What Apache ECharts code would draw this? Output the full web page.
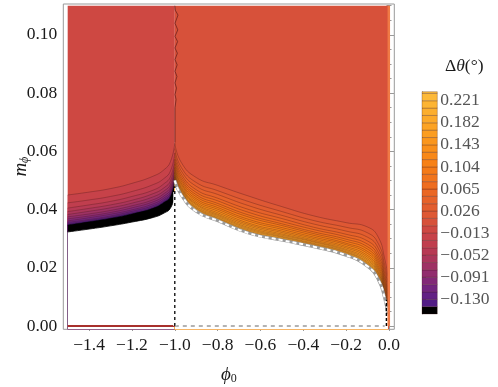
<!DOCTYPE html>
<html>
<head>
<meta charset="utf-8">
<script src="https://cdn.jsdelivr.net/npm/echarts@6/dist/echarts.min.js"></script>
<style>
  html, body { margin: 0; padding: 0; background: #fff; }
  #main { width: 498px; height: 387px; }
</style>
</head>
<body>
<div id="main"></div>
<script>
var leftX = [-1.5, -1.4, -1.3, -1.2, -1.1, -1.05, -1.02, -1.0];
var rightX = [-1.0, -0.97, -0.9, -0.8, -0.65, -0.5, -0.35, -0.2, -0.1, -0.05, -0.02, -0.005];

// left of the cusp: contour levels (top to bottom) and their m_phi values
var leftLevels = [-0.013, -0.026, -0.039, -0.052, -0.065, -0.078, -0.091, -0.104, -0.117, -0.130, -0.143];
var leftLines = [
  [0.0450, 0.0460, 0.0472, 0.0490, 0.0515, 0.0537, 0.0565, 0.0628],
  [0.0423, 0.0433, 0.0445, 0.0462, 0.0486, 0.0507, 0.0533, 0.0594],
  [0.0405, 0.0416, 0.0428, 0.0445, 0.0467, 0.0489, 0.0513, 0.0573],
  [0.0393, 0.0404, 0.0416, 0.0432, 0.0455, 0.0475, 0.0499, 0.0558],
  [0.0383, 0.0394, 0.0406, 0.0422, 0.0444, 0.0464, 0.0487, 0.0545],
  [0.0375, 0.0385, 0.0397, 0.0413, 0.0434, 0.0455, 0.0477, 0.0534],
  [0.0368, 0.0378, 0.0390, 0.0406, 0.0427, 0.0447, 0.0469, 0.0526],
  [0.0361, 0.0372, 0.0384, 0.0399, 0.0420, 0.0440, 0.0461, 0.0517],
  [0.0356, 0.0366, 0.0378, 0.0394, 0.0414, 0.0434, 0.0455, 0.0511],
  [0.0351, 0.0362, 0.0374, 0.0389, 0.0409, 0.0429, 0.0450, 0.0505],
  [0.0347, 0.0358, 0.0370, 0.0385, 0.0405, 0.0425, 0.0445, 0.0500]
];
var leftEdge = [0.0323, 0.0333, 0.0344, 0.0357, 0.0373, 0.0388, 0.0405, 0.0450];

// right of the cusp
var rightLevels = [0.013, 0.026, 0.039, 0.052, 0.065, 0.078, 0.091, 0.104, 0.117, 0.130, 0.143, 0.156, 0.169, 0.182, 0.195, 0.208, 0.221];
var rightLines = [
  [0.0628, 0.0562, 0.0510, 0.0483, 0.0445, 0.0410, 0.0378, 0.0355, 0.0340, 0.0305, 0.0230, 0.0170],
  [0.0609, 0.0545, 0.0493, 0.0465, 0.0426, 0.0393, 0.0362, 0.0339, 0.0320, 0.0283, 0.0210, 0.0150],
  [0.0595, 0.0533, 0.0480, 0.0452, 0.0412, 0.0380, 0.0350, 0.0326, 0.0305, 0.0267, 0.0195, 0.0135],
  [0.0582, 0.0522, 0.0468, 0.0439, 0.0399, 0.0369, 0.0339, 0.0315, 0.0292, 0.0253, 0.0181, 0.0121],
  [0.0572, 0.0513, 0.0459, 0.0430, 0.0389, 0.0359, 0.0331, 0.0306, 0.0281, 0.0241, 0.0171, 0.0111],
  [0.0563, 0.0505, 0.0451, 0.0421, 0.0380, 0.0351, 0.0323, 0.0298, 0.0272, 0.0231, 0.0161, 0.0101],
  [0.0555, 0.0498, 0.0444, 0.0414, 0.0373, 0.0345, 0.0317, 0.0291, 0.0264, 0.0222, 0.0153, 0.0093],
  [0.0547, 0.0491, 0.0437, 0.0407, 0.0365, 0.0338, 0.0311, 0.0284, 0.0256, 0.0214, 0.0145, 0.0085],
  [0.0541, 0.0486, 0.0431, 0.0401, 0.0359, 0.0332, 0.0305, 0.0279, 0.0249, 0.0206, 0.0138, 0.0078],
  [0.0535, 0.0480, 0.0425, 0.0395, 0.0352, 0.0326, 0.0300, 0.0273, 0.0242, 0.0199, 0.0132, 0.0072],
  [0.0529, 0.0475, 0.0420, 0.0389, 0.0347, 0.0321, 0.0295, 0.0268, 0.0236, 0.0193, 0.0125, 0.0065],
  [0.0524, 0.0471, 0.0416, 0.0384, 0.0342, 0.0316, 0.0291, 0.0263, 0.0230, 0.0187, 0.0120, 0.0060],
  [0.0519, 0.0467, 0.0411, 0.0380, 0.0337, 0.0312, 0.0288, 0.0259, 0.0225, 0.0182, 0.0115, 0.0055],
  [0.0515, 0.0463, 0.0407, 0.0376, 0.0333, 0.0308, 0.0284, 0.0255, 0.0220, 0.0177, 0.0111, 0.0051],
  [0.0511, 0.0460, 0.0404, 0.0372, 0.0329, 0.0305, 0.0281, 0.0252, 0.0216, 0.0172, 0.0107, 0.0047],
  [0.0507, 0.0456, 0.0400, 0.0369, 0.0325, 0.0301, 0.0278, 0.0248, 0.0212, 0.0168, 0.0102, 0.0042],
  [0.0504, 0.0453, 0.0397, 0.0365, 0.0322, 0.0298, 0.0275, 0.0245, 0.0208, 0.0164, 0.0099, 0.0039]
];
var rightEdge = [0.0500, 0.0450, 0.0394, 0.0362, 0.0318, 0.0295, 0.0272, 0.0243, 0.0205, 0.0160, 0.0095, 0.0035];

// wiggly zero contour running up from the cusp
var seam = [[-1.0, 0.110], [-0.998, 0.1085], [-0.985, 0.1068], [-0.999, 0.104], [-0.986, 0.1017],
  [-0.999, 0.0995], [-0.987, 0.0977], [-0.999, 0.0955], [-0.988, 0.0937], [-0.999, 0.0915],
  [-0.989, 0.0897], [-0.999, 0.0875], [-0.990, 0.0857], [-0.999, 0.0835], [-0.992, 0.0817],
  [-0.999, 0.0795], [-0.994, 0.0778], [-0.999, 0.075], [-0.999, 0.063]];

var xTicks = [-1.4, -1.2, -1.0, -0.8, -0.6, -0.4, -0.2, 0.0];
var yTicks = [0.00, 0.02, 0.04, 0.06, 0.08, 0.10];
var barTicks = [-0.130, -0.091, -0.052, -0.013, 0.026, 0.065, 0.104, 0.143, 0.182, 0.221];
var barLevels = [-0.156, -0.143, -0.130, -0.117, -0.104, -0.091, -0.078, -0.065, -0.052, -0.039, -0.026, -0.013,
  0.000, 0.013, 0.026, 0.039, 0.052, 0.065, 0.078, 0.091, 0.104, 0.117, 0.130, 0.143, 0.156, 0.169,
  0.182, 0.195, 0.208, 0.221, 0.234, 0.237];

var colorStops = [
  [-0.143, '#4a1a86'], [-0.117, '#6a2383'], [-0.091, '#8a2b73'], [-0.065, '#a5345f'],
  [-0.039, '#bd3c50'], [-0.013, '#ca4446'], [0.0, '#d24b3e'], [0.013, '#dc5636'],
  [0.026, '#e05a31'], [0.065, '#ec6a22'], [0.104, '#f67d16'], [0.143, '#fa931b'],
  [0.182, '#fca626'], [0.237, '#fdbd3c']
];
function hex(c) { return [1, 3, 5].map(function (i) { return parseInt(c.substr(i, 2), 16); }); }
function colorAt(v) {
  if (v < -0.143) return '#000000';
  for (var i = 1; i < colorStops.length; i++) {
    if (v <= colorStops[i][0] || i === colorStops.length - 1) {
      var a = colorStops[i - 1], b = colorStops[i];
      var t = Math.max(0, Math.min(1, (v - a[0]) / (b[0] - a[0])));
      var ca = hex(a[1]), cb = hex(b[1]);
      return 'rgb(' + ca.map(function (x, k) { return Math.round(x + (cb[k] - x) * t); }).join(',') + ')';
    }
  }
}

function pairs(xs, ys) { return xs.map(function (x, i) { return [x, ys[i]]; }); }
var lineColor = 'rgba(70,20,20,0.55)';
function band(xs, ys, fill, stroke, width) {
  return {
    type: 'line', data: pairs(xs, ys), symbol: 'none', smooth: true,
    lineStyle: { color: stroke || lineColor, width: width == null ? 0.6 : width },
    areaStyle: { color: fill, opacity: 1, origin: 'start' }, silent: true
  };
}
function plain(data, color, width, type) {
  return { type: 'line', data: data, symbol: 'none', silent: true,
    lineStyle: { color: color, width: width, type: type || 'solid' } };
}

var series = [];
series.push(band([-1.5, -1.0], [0.11, 0.11], colorAt(-0.0065), 'transparent', 0));
series.push(band([-1.0, 0.0], [0.11, 0.11], colorAt(0.0065), 'transparent', 0));
leftLines.forEach(function (ys, i) {
  var lv = leftLevels[i];
  series.push(band(leftX, ys, lv <= -0.143 ? '#000' : colorAt(lv - 0.0065), lv <= -0.143 ? '#000' : lineColor));
});
series.push(band(leftX, leftEdge, '#fff', '#000', 0.8));
rightLines.forEach(function (ys, i) {
  series.push(band(rightX, ys, colorAt(rightLevels[i] + 0.0065)));
});
series.push(band(rightX, rightEdge, '#fff', '#9a9a9a', 3));
var edgeDash = plain(pairs(rightX, rightEdge), '#fff', 2, [4, 3]);
edgeDash.smooth = true;
series.push(edgeDash);
series.push(plain(seam, 'rgba(90,25,25,0.85)', 0.8));
// lines along the plot edges
series.push(plain([[-1.5, 0], [-1.0, 0]], '#a8302c', 2));
series.push(plain([[-1.0, 0], [-0.02, 0]], '#666', 1, [4, 4]));
series.push(plain([[-1.0, 0], [-1.0, 0.046]], '#fff', 3));
series.push(plain([[-1.0, 0], [-1.0, 0.048]], '#000', 1.3, [3, 3]));
series.push(plain([[-0.012, 0], [-0.012, 0.009]], '#000', 1.5, [3, 2]));
series.push(plain([[-0.001, 0], [-0.001, 0.11]], '#f07a45', 2.5));

// colour bar
var bands = [];
for (var i = 0; i < barLevels.length - 1; i++) {
  bands.push([barLevels[i], barLevels[i + 1], (barLevels[i] + barLevels[i + 1]) / 2]);
}
series.push({
  type: 'custom', xAxisIndex: 4, yAxisIndex: 4, data: bands, silent: true,
  renderItem: function (params, api) {
    var p1 = api.coord([0, api.value(1)]);
    var p2 = api.coord([1, api.value(0)]);
    return {
      type: 'rect',
      shape: { x: p1[0], y: p1[1], width: p2[0] - p1[0], height: p2[1] - p1[1] },
      style: { fill: colorAt(api.value(2)), stroke: 'rgba(60,20,20,0.45)', lineWidth: 0.6 }
    };
  }
});

var minorX = [], minorY = [];
for (var k = 0; k <= 30; k++) minorX.push(-1.5 + k * 0.05);
for (var k = 0; k <= 22; k++) minorY.push(k * 0.005);

var serif = "'Liberation Serif', 'Times New Roman', serif";
var frame = '#999';
var ink = '#1a1a1a';
function minus(v, d) { return (v < -1e-9 ? '\u2212' : '') + Math.abs(v).toFixed(d); }
function xAx(pos, vals, len, labels) {
  return {
    type: 'value', gridIndex: 0, position: pos, min: -1.5205, max: 0.0247,
    axisLine: { show: false }, splitLine: { show: false },
    axisTick: { show: true, inside: true, length: len, customValues: vals, lineStyle: { color: frame } },
    axisLabel: labels ? {
      show: true, customValues: vals, margin: 7, fontFamily: serif, fontSize: 17.5, color: ink,
      formatter: function (v) { return minus(v, 1); }
    } : { show: false }
  };
}
function yAx(pos, vals, len, labels) {
  return {
    type: 'value', gridIndex: 0, position: pos, min: -0.00113, max: 0.1106,
    axisLine: { show: false }, splitLine: { show: false },
    axisTick: { show: true, inside: true, length: len, customValues: vals, lineStyle: { color: frame } },
    axisLabel: labels ? {
      show: true, customValues: vals, margin: 6, fontFamily: serif, fontSize: 17.5, color: ink,
      formatter: function (v) { return v.toFixed(2); }
    } : { show: false }
  };
}

var xAxes = [xAx('bottom', xTicks, 5, true), xAx('bottom', minorX, 2.5, false),
  xAx('top', xTicks, 5, false), xAx('top', minorX, 2.5, false),
  { type: 'value', gridIndex: 1, min: 0, max: 1, show: false }];
xAxes[0].name = '{i|\u03d5}{s|0}';
xAxes[0].nameLocation = 'middle';
xAxes[0].nameGap = 36;
xAxes[0].nameMoveOverlap = false;
xAxes[0].nameTextStyle = { rich: {
  i: { fontFamily: serif, fontStyle: 'italic', fontSize: 19, color: ink },
  s: { fontFamily: serif, fontSize: 12, color: ink, padding: [8, 0, 0, 0] } } };

var yAxes = [yAx('left', yTicks, 5, true), yAx('left', minorY, 2.5, false),
  yAx('right', yTicks, 5, false), yAx('right', minorY, 2.5, false),
  { type: 'value', gridIndex: 1, position: 'right', min: -0.156, max: 0.237,
    axisLine: { show: true, lineStyle: { color: '#aaa', width: 1 } }, splitLine: { show: false },
    axisTick: { show: true, inside: false, length: 4, customValues: barTicks, lineStyle: { color: '#aaa' } },
    axisLabel: { show: true, customValues: barTicks, margin: 3, fontFamily: serif, fontSize: 17.5, color: '#555',
      formatter: function (v) { return minus(v, 3); } } }];
yAxes[0].name = '{i|m}{s|\u03d5}';
yAxes[0].nameLocation = 'middle';
yAxes[0].nameGap = 32;
yAxes[0].nameRotate = 90;
yAxes[0].nameMoveOverlap = false;
yAxes[0].nameTextStyle = { rich: {
  i: { fontFamily: serif, fontStyle: 'italic', fontSize: 19, color: ink },
  s: { fontFamily: serif, fontStyle: 'italic', fontSize: 12, color: ink, padding: [8, 0, 0, 0] } } };

var chart = echarts.init(document.getElementById('main'));
chart.setOption({
  animation: false,
  title: {
    text: '{a|\u0394}{b|\u03b8}{a|(\u00b0)}', left: 440, top: 52,
    textStyle: { fontWeight: 'normal', rich: {
      a: { fontFamily: serif, fontSize: 17.5, fontWeight: 'normal', color: ink },
      b: { fontFamily: serif, fontSize: 17.5, fontWeight: 'normal', fontStyle: 'italic', color: ink } } }
  },
  grid: [
    { left: 63.3, right: 103.7, top: 4, bottom: 57.7, show: true, borderColor: frame, borderWidth: 1,
      backgroundColor: '#fff', outerBoundsMode: 'none', containLabel: false },
    { left: 422, right: 60.7, top: 91.7, bottom: 73, outerBoundsMode: 'none', containLabel: false }
  ],
  xAxis: xAxes,
  yAxis: yAxes,
  series: series
});
</script>
</body>
</html>
